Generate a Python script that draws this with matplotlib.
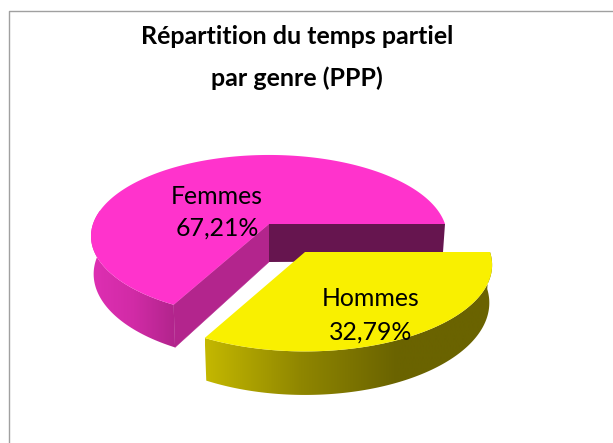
"""
Répartition du temps partiel par genre (PPP)
Exploded 3D-look pie, drawn by hand with polygons.
"""

import numpy as np
import matplotlib
matplotlib.use("Agg")
import matplotlib.pyplot as plt
from matplotlib.colors import LinearSegmentedColormap
from matplotlib.patches import Polygon

# ==========================================================
# Data
# ==========================================================

labels = ["Femmes", "Hommes"]
values = [67.21, 32.79]

title_lines = ["Répartition du temps partiel", "par genre (PPP)"]

# ==========================================================
# Style
# ==========================================================

WIDTH = 613
HEIGHT = 443

FONT = "Lato"

PINK_TOP = "#FF33CC"
PINK_CUT = "#B3258D"
PINK_BACK = "#66154F"
PINK_SIDE = ["#DE2FB3", "#D12BA6", "#B0248B"]

YELLOW_TOP = "#F9F000"
YELLOW_SIDE = ["#C4B800", "#8F8600", "#6A6300", "#6A6300"]

PERSPECTIVE = 0.15
DEPTH = 37


# ==========================================================
# Helpers
# ==========================================================

def project(angles, cx, cy, rx, ry):
    """Pie plane to screen, the front of the pie looks bigger."""
    u = np.cos(np.radians(angles))
    v = np.sin(np.radians(angles))
    s = 1 / (1 + PERSPECTIVE * v)
    return cx + rx * u * s, cy - ry * v * s, s


def lower(x, y, s, cx):
    """Same outline on the underside of the slab."""
    return cx + (x - cx) * 0.985, y + DEPTH * s


def gradient_side(ax, verts, colors, x0, x1, zorder):
    cmap = LinearSegmentedColormap.from_list("side", colors)
    img = ax.imshow(
        np.linspace(0, 1, 256).reshape(1, -1),
        cmap=cmap,
        extent=(x0, x1, HEIGHT, 0),
        aspect="auto",
        interpolation="bilinear",
        zorder=zorder
    )
    patch = Polygon(verts, closed=True, transform=ax.transData, fc="none", ec="none")
    ax.add_patch(patch)
    img.set_clip_path(patch)


def arc_band(xt, yt, xb, yb):
    return np.column_stack([
        np.concatenate([xt, xb[::-1]]),
        np.concatenate([yt, yb[::-1]])
    ])


# ==========================================================
# Plot
# ==========================================================

fig = plt.figure(figsize=(WIDTH / 100, HEIGHT / 100), dpi=100)
ax = fig.add_axes([0, 0, 1, 1])
ax.set_xlim(0, WIDTH)
ax.set_ylim(HEIGHT, 0)
ax.axis("off")
ax.set_autoscale_on(False)

# chart frame, right and bottom edges fall outside the picture
ax.plot([9, 9, WIDTH + 5], [HEIGHT + 5, 11, 11], color="#A0A0A0", lw=1.0)

split = 360 * values[0] / sum(values)

# ----------------------------------------------------------
# Femmes
# ----------------------------------------------------------

cx, cy, rx, ry = 269, 224, 176, 79.4

angles = np.linspace(0, split, 240)
xt, yt, st = project(angles, cx, cy, rx, ry)

# outer wall, only the part from the left side round to the cut shows
front = angles >= 170
xb, yb = lower(xt, yt, st, cx)
gradient_side(
    ax,
    arc_band(xt[front], yt[front], xb[front], yb[front]),
    PINK_SIDE,
    xt[front].min(),
    xb[-1] + 1,
    zorder=2
)

# cut faces
ax.add_patch(Polygon(
    [(cx, cy), (xt[-1], yt[-1]), (xb[-1], yb[-1]), (cx, cy + DEPTH + 1)],
    closed=True, fc=PINK_CUT, ec=PINK_CUT, lw=0.3, zorder=3
))
ax.add_patch(Polygon(
    [(cx, cy), (xt[0], yt[0]), (xb[0], yb[0]), (cx, cy + DEPTH + 1)],
    closed=True, fc=PINK_BACK, ec="none", zorder=3
))

# top
ax.add_patch(Polygon(
    np.vstack([[cx, cy], np.column_stack([xt, yt])]),
    closed=True, fc=PINK_TOP, ec="none", zorder=4
))

# ----------------------------------------------------------
# Hommes
# ----------------------------------------------------------

cx, cy, rx, ry = 305, 252, 185, 84.5

angles = np.linspace(split, 360, 160)
xt, yt, st = project(angles, cx, cy, rx, ry)
xb, yb = lower(xt, yt, st, cx)

gradient_side(
    ax,
    arc_band(xt, yt, xb, yb),
    YELLOW_SIDE,
    xt.min(),
    xt.max(),
    zorder=5
)

ax.add_patch(Polygon(
    np.vstack([[cx, cy], np.column_stack([xt, yt])]),
    closed=True, fc=YELLOW_TOP, ec="none", zorder=6
))

# ----------------------------------------------------------
# Text
# ----------------------------------------------------------

for text, y in zip(title_lines, [36, 78]):
    ax.text(
        297, y, text,
        ha="center", va="center",
        fontsize=18, fontweight="bold", family=FONT, color="black",
        zorder=8
    )

for label, value, x, y1, y2 in zip(labels, values, [217, 371], [196, 299], [228, 332]):
    ax.text(x, y1, label, ha="center", va="center",
            fontsize=17.9, family=FONT, color="black", zorder=8)
    ax.text(x, y2, f"{value:.2f}%".replace(".", ","), ha="center", va="center",
            fontsize=17.9, family=FONT, color="black", zorder=8)

fig.savefig("out.png", dpi=100, facecolor="white")
plt.close(fig)
